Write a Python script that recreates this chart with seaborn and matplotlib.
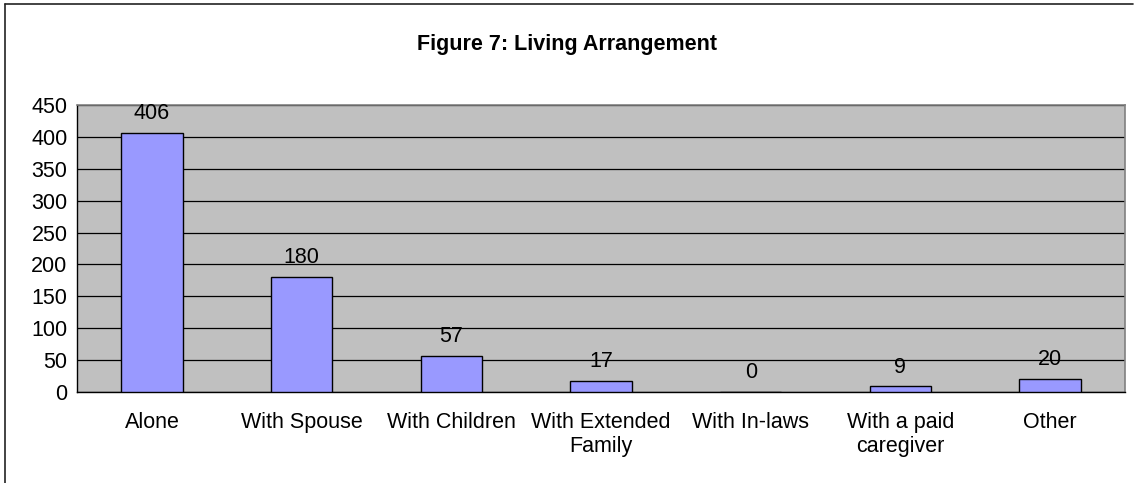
import numpy as np
import pandas as pd
import matplotlib
matplotlib.use("Agg")
import matplotlib.pyplot as plt
import seaborn as sns
from matplotlib.lines import Line2D

categories = ["Alone", "With Spouse", "With Children", "With Extended\nFamily",
              "With In-laws", "With a paid\ncaregiver", "Other"]
counts = [406, 180, 57, 17, 0, 9, 20]
yticks = [0, 50, 100, 150, 200, 250, 300, 350, 400, 450]

df = pd.DataFrame({"cat": categories, "n": counts})

sns.set_style("white")
plt.rcParams['font.family'] = ['Liberation Sans', 'DejaVu Sans']
plt.rcParams['text.color'] = 'black'
plt.rcParams['xtick.color'] = 'black'
plt.rcParams['ytick.color'] = 'black'

fig = plt.figure(figsize=(11.34, 4.83), dpi=100)
ax = fig.add_axes([0.068, 0.188, 0.924, 0.595])
ax.set_facecolor("#c0c0c0")

sns.barplot(data=df, x="cat", y="n", ax=ax, color="#9999ff", width=0.41,
            edgecolor="black", linewidth=1, saturation=1, zorder=3)

ax.set_ylim(0, 450)
ax.set_xlim(-0.5, len(categories) - 0.5)
ax.set_yticks(yticks)
ax.yaxis.grid(True, color="black", linewidth=0.9, zorder=1)
ax.set_axisbelow(True)
ax.set_xlabel("")
ax.set_ylabel("")

# ticks: x ticks between categories
ax.set_xticks(np.arange(len(categories)))
ax.set_xticklabels(categories, fontsize=15.5, linespacing=1.15)
ax.tick_params(axis="x", length=0, pad=14.5)
ax.set_xticks(np.arange(len(categories) + 1) - 0.5, minor=True)
ax.tick_params(axis="x", which="minor", length=5, direction="out", color="black", width=0.8)
ax.tick_params(axis="y", length=5, direction="out", color="black", width=0.8, labelsize=15.5, pad=2)

for side in ["top", "right"]:
    ax.spines[side].set_color("#808080")
    ax.spines[side].set_linewidth(1.2)
for side in ["left", "bottom"]:
    ax.spines[side].set_color("black")
    ax.spines[side].set_linewidth(1)

for i, v in enumerate(counts):
    ax.text(i, v + 14, str(v), ha="center", va="bottom", fontsize=15.5, zorder=5, clip_on=False)

fig.text(0.5, 0.908, "Figure 7: Living Arrangement", ha="center", va="center",
         fontsize=15.5, fontweight="bold")

# chart frame
fig.add_artist(Line2D([0.004, 0.999], [0.992, 0.992], color="#222222", linewidth=1.2, transform=fig.transFigure))
fig.add_artist(Line2D([0.004, 0.004], [0.0, 0.992], color="#222222", linewidth=1.2, transform=fig.transFigure))

fig.savefig("out.png", dpi=100, facecolor="white")
